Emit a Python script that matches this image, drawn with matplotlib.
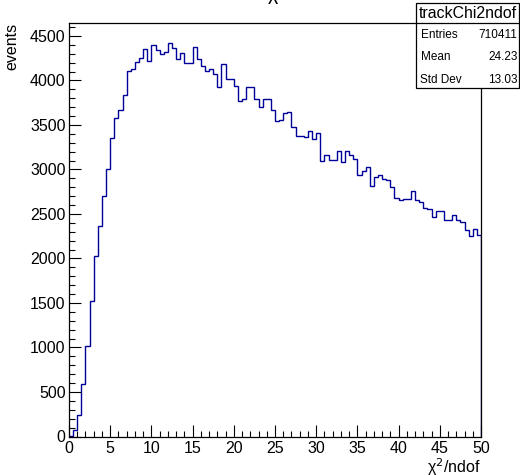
import numpy as np
import matplotlib
matplotlib.use("Agg")
import matplotlib.pyplot as plt
from matplotlib.patches import Rectangle
from matplotlib.lines import Line2D
from matplotlib.ticker import MultipleLocator

plt.rcParams["font.family"] = ["Liberation Sans", "DejaVu Sans"]

# Histogramme trackChi2ndof : 100 bins de 0 a 50
BIN_EDGES = np.arange(0.0, 50.0 + 0.25, 0.5)
COUNTS = [
    8, 73, 242, 586, 1020, 1522, 2024, 2365, 2706, 3009,
    3350, 3578, 3672, 3833, 4110, 4124, 4209, 4254, 4350, 4221,
    4394, 4342, 4297, 4320, 4425, 4361, 4238, 4313, 4193, 4200,
    4380, 4238, 4167, 4107, 4133, 4070, 3932, 4180, 4022, 4018,
    3940, 3775, 3797, 3932, 3925, 3797, 3707, 3797, 3797, 3668,
    3541, 3556, 3638, 3646, 3481, 3376, 3376, 3361, 3429, 3346,
    3406, 3095, 3163, 3107, 3107, 3211, 3088, 3208, 3163, 3114,
    2942, 2987, 3024, 2815, 2912, 2935, 2893, 2882, 2800, 2676,
    2657, 2665, 2672, 2762, 2657, 2631, 2564, 2552, 2463, 2534,
    2534, 2433, 2433, 2489, 2433, 2414, 2320, 2253, 2331, 2264,
]

HIST_NAME = "trackChi2ndof"
STAT_LABELS = ["Entries", "Mean", "Std Dev"]
STAT_VALUES = ["710411", "24.23", "13.03"]

W, H = 520, 475


def fx(x):
    return x / W


def fy(y):
    return 1.0 - y / H


fig = plt.figure(figsize=(W / 100, H / 100), dpi=100)
ax = fig.add_axes([fx(69), fy(436.5), fx(481) - fx(69), fy(23) - fy(436.5)])

ax.stairs(COUNTS, BIN_EDGES, color="#000099", lw=1.0)

ax.set_xlim(0, 50)
ax.set_ylim(0, 4646)
ax.xaxis.set_major_locator(MultipleLocator(5))
ax.xaxis.set_minor_locator(MultipleLocator(1))
ax.yaxis.set_major_locator(MultipleLocator(500))
ax.yaxis.set_minor_locator(MultipleLocator(100))
ax.tick_params(which="both", direction="in", top=False, right=False,
               width=0.8, labelsize=11.5, color="black")
ax.tick_params(which="major", length=8.7)
ax.tick_params(which="minor", length=4.3)
ax.tick_params(axis="x", pad=3.5)
ax.tick_params(axis="y", pad=2.4)
for sp in ax.spines.values():
    sp.set_linewidth(0.9)

ax.set_xlabel("χ$^2$/ndof", loc="right", fontsize=11.5, labelpad=-0.3)
ax.set_ylabel("events", loc="top", fontsize=11.5, labelpad=8)

# titre coupe en haut
fig.text(fx(273), fy(0), "χ", fontsize=14, ha="center", va="baseline")

# boite de stats
x0, x1, y0, y1 = 416, 519, 3, 88
fig.add_artist(Rectangle((fx(x0), fy(y1)), fx(x1) - fx(x0), fy(y0) - fy(y1),
                         transform=fig.transFigure, facecolor="white",
                         edgecolor="black", lw=0.9, zorder=10))
fig.add_artist(Line2D([fx(x0), fx(x1)], [fy(23), fy(23)],
                      transform=fig.transFigure, color="black", lw=0.9, zorder=11))
fig.text(fx((x0 + x1) / 2), fy(13), HIST_NAME, fontsize=11.4,
         ha="center", va="center", zorder=12)
for i, (lab, val) in enumerate(zip(STAT_LABELS, STAT_VALUES)):
    yy = fy(35 + 22.5 * i)
    fig.text(fx(420.5), yy, lab, fontsize=8.5, ha="left", va="center", zorder=12)
    fig.text(fx(517.5), yy, val, fontsize=8.5, ha="right", va="center", zorder=12)

plt.savefig("out.png", dpi=100)
